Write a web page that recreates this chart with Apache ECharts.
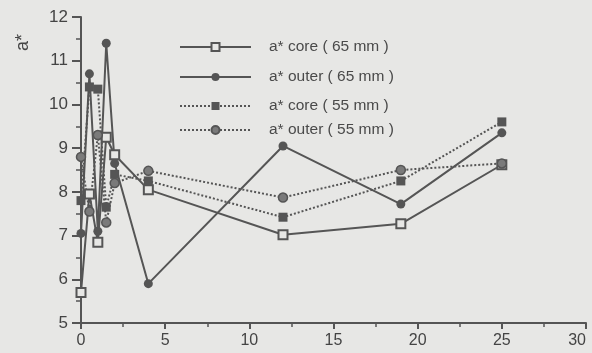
<!DOCTYPE html>
<html><head><meta charset="utf-8">
<script src="https://cdn.jsdelivr.net/npm/echarts@6/dist/echarts.min.js"></script>
<style>html,body{margin:0;padding:0;background:#e7e7e5}#c{width:592px;height:353px}</style>
</head><body><div id="c"></div>
<script>
const xVals = [0, 0.5, 1, 1.5, 2, 4, 12, 19, 25];
const core65 = [5.7, 7.95, 6.85, 9.25, 8.85, 8.05, 7.02, 7.27, 8.62];
const outer65 = [7.05, 10.7, 7.1, 11.4, 8.65, 5.9, 9.05, 7.72, 9.35];
const core55 = [7.8, 10.4, 10.35, 7.65, 8.4, 8.25, 7.42, 8.25, 9.6];
const outer55 = [8.8, 7.55, 9.3, 7.3, 8.2, 8.48, 7.87, 8.5, 8.65];
const names = ['a* core ( 65 mm )', 'a* outer ( 65 mm )', 'a* core ( 55 mm )', 'a* outer ( 55 mm )'];
const yTicks = [5, 6, 7, 8, 9, 10, 11, 12];

const ink = '#555555';
const bg = '#e7e7e5';
const pair = arr => xVals.map((x, i) => [x, arr[i]]);
const legendRows = [42, 72, 101, 125];

const chart = echarts.init(document.getElementById('c'));
chart.setOption({
  backgroundColor: bg,
  animation: false,
  grid: {left: 81, right: 6, top: 17, bottom: 30},
  legend: names.map((n, i) => ({
    data: [n], left: 174, top: legendRows[i] - 8, itemWidth: 71, itemHeight: 10,
    textStyle: {color: '#4a4a4a', fontSize: 15.5, fontFamily: 'Liberation Sans, Arial', padding: [0, 0, 0, 13]}
  })),
  xAxis: {
    type: 'value', min: 0, max: 30, interval: 5,
    axisLine: {lineStyle: {color: ink, width: 2}},
    axisTick: {length: 6, lineStyle: {color: ink, width: 2}},
    minorTick: {show: true, splitNumber: 2, length: 4, lineStyle: {color: ink, width: 1.5}},
    splitLine: {show: false},
    axisLabel: {color: '#444', fontSize: 16, fontFamily: 'Liberation Sans, Arial', margin: 10, alignMaxLabel: 'right'}
  },
  yAxis: {
    type: 'value', min: yTicks[0], max: yTicks[yTicks.length - 1], interval: 1,
    axisLine: {show: true, lineStyle: {color: ink, width: 2}},
    axisTick: {show: true, length: 9, lineStyle: {color: ink, width: 2}},
    minorTick: {show: true, splitNumber: 2, length: 5, lineStyle: {color: ink, width: 1.5}},
    splitLine: {show: false},
    axisLabel: {color: '#444', fontSize: 17, fontFamily: 'Liberation Sans, Arial', margin: 13}
  },
  graphic: [{
    type: 'text', x: 14, y: 51,
    style: {text: 'a*', fill: '#444', font: '18px Liberation Sans, Arial'},
    rotation: Math.PI / 2
  }],
  series: [
    {name: names[0], type: 'line', data: pair(core65), symbol: 'rect', symbolSize: 9,
     lineStyle: {color: ink, width: 2}, itemStyle: {color: bg, borderColor: ink, borderWidth: 2}},
    {name: names[1], type: 'line', data: pair(outer65), symbol: 'circle', symbolSize: 9,
     lineStyle: {color: ink, width: 2}, itemStyle: {color: ink}},
    {name: names[2], type: 'line', data: pair(core55), symbol: 'rect', symbolSize: 9,
     lineStyle: {color: ink, width: 2, type: [2, 2]}, itemStyle: {color: ink}},
    {name: names[3], type: 'line', data: pair(outer55), symbol: 'circle', symbolSize: 9,
     lineStyle: {color: ink, width: 2, type: [2, 2]}, itemStyle: {color: '#7a7a7a', borderColor: ink, borderWidth: 1.5}}
  ]
});
</script></body></html>
